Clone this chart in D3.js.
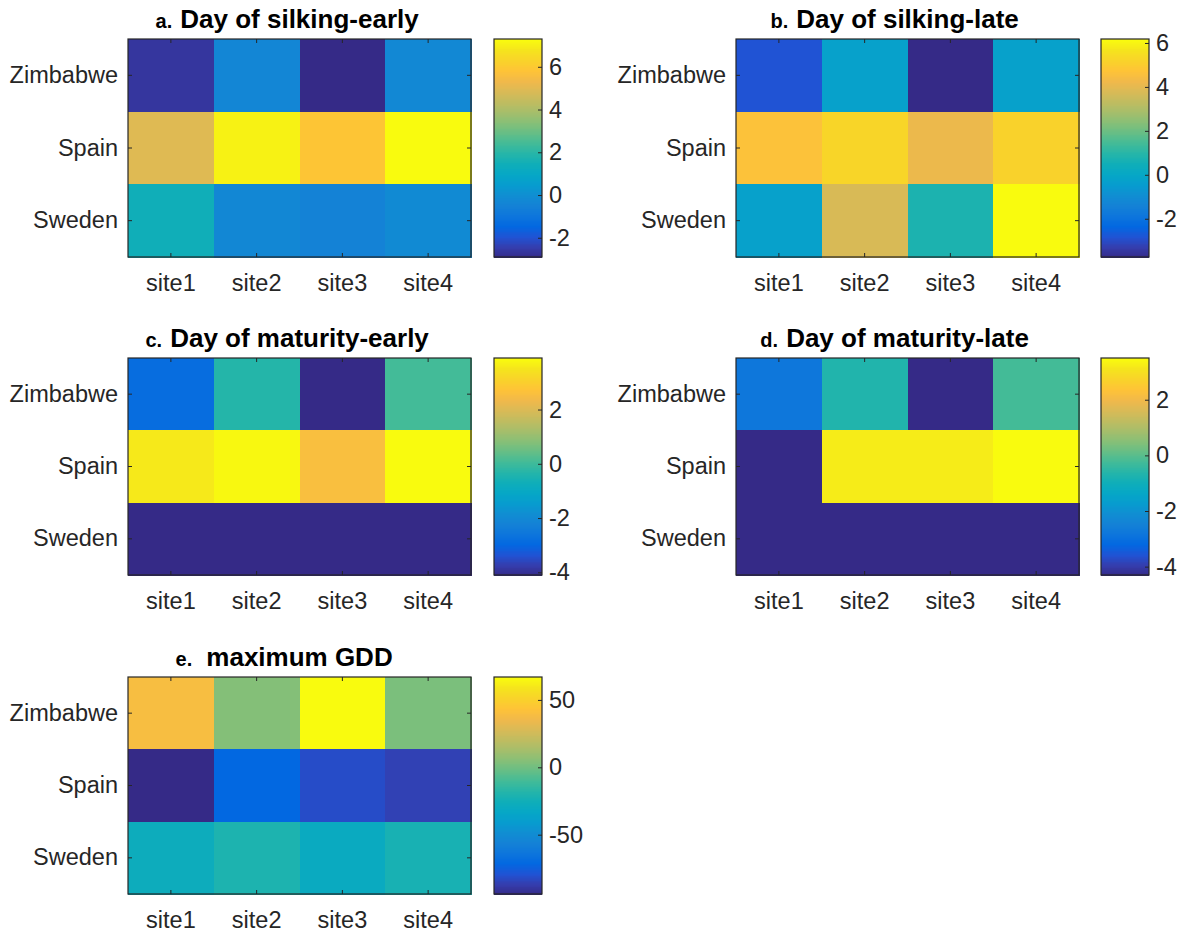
<!DOCTYPE html>
<html>
<head>
<meta charset="utf-8">
<script src="https://cdn.jsdelivr.net/npm/d3@7"></script>
<style>
  body { margin: 0; background: #fff; }
  svg { display: block; font-family: "Liberation Sans", Arial, Helvetica, sans-serif; }
</style>
</head>
<body>
<svg id="chart" width="1183" height="934"></svg>
<script>
// data
const sites = ['site1', 'site2', 'site3', 'site4'];
const countries = ['Zimbabwe', 'Spain', 'Sweden'];

const panelLetters = ['a.', 'b.', 'c.', 'd.', 'e.'];
const panelTitles = ['Day of silking-early', 'Day of silking-late', 'Day of maturity-early', 'Day of maturity-late', 'maximum GDD'];

// rows = countries, cols = sites
const silkingEarly = [
  [-2.6, -0.3, -2.9, -0.2],
  [5.0, 7.1, 5.9, 7.3],
  [1.5, -0.25, -0.45, -0.15]
];
const silkingLate = [
  [-2.8, -0.2, -3.74, -0.2],
  [4.7, 5.3, 4.2, 5.2],
  [-0.2, 3.8, 0.8, 6.18]
];
const maturityEarly = [
  [-2.8, -0.3, -4.1, 0.1],
  [3.6, 3.85, 2.6, 3.9],
  [-4.1, -4.1, -4.1, -4.1]
];
const maturityLate = [
  [-2.75, -0.65, -4.3, -0.2],
  [-4.3, 3.25, 3.25, 3.5],
  [-4.3, -4.3, -4.3, -4.3]
];
const maxGDD = [
  [40, 5, 67, 3],
  [-94, -71, -81, -85],
  [-27, -20, -29, -22]
];
const panelValues = [silkingEarly, silkingLate, maturityEarly, maturityLate, maxGDD];

// colour limits and colorbar ticks
const colorLimits = [[-2.9, 7.3], [-3.74, 6.18], [-4.1, 3.9], [-4.3, 3.5], [-94, 67]];
const colorTicks = [[-2, 0, 2, 4, 6], [-2, 0, 2, 4, 6], [-4, -2, 0, 2], [-4, -2, 0, 2], [-50, 0, 50]];

// MATLAB parula, every 3rd entry of the 64-colour map
const parulaStops = ['#352a87', '#353dad', '#2053d4', '#0268e1', '#0d75dc', '#1481d6', '#108ed2',
  '#079ccf', '#06a7c6', '#0faeb9', '#25b5a9', '#42bb98', '#65be86', '#87bf77', '#a5be6b',
  '#c0bc60', '#d9ba56', '#f1b94a', '#fec337', '#f9d32a', '#f5e41d', '#f9fb0e'];
const parula = d3.piecewise(d3.interpolateRgb, parulaStops);

// layout (pixels)
const boxes = [
  { x: 128, y: 39, w: 343, h: 218, cbx: 494 },
  { x: 736, y: 39, w: 343, h: 218, cbx: 1101 },
  { x: 128, y: 358, w: 343, h: 217, cbx: 494 },
  { x: 736, y: 358, w: 343, h: 217, cbx: 1101 },
  { x: 128, y: 677, w: 343, h: 217, cbx: 494 }
];
const cbWidth = 48;
const axisColor = '#262626';
const tickFont = 23.5;
const plainNum = d => String(d); // MATLAB uses hyphen-minus

const svg = d3.select('#chart');

function drawPanel(i) {
  const b = boxes[i];
  const vals = panelValues[i];
  const clim = colorLimits[i];
  const color = d3.scaleSequential(parula).domain(clim).clamp(true);

  const x = d3.scaleBand().domain(sites).range([b.x, b.x + b.w]);
  const y = d3.scaleBand().domain(countries).range([b.y, b.y + b.h]);

  const g = svg.append('g');

  // cells
  const cells = [];
  countries.forEach((c, r) => sites.forEach((s, k) => cells.push({ c, s, v: vals[r][k] })));
  g.selectAll('rect.cell')
    .data(cells)
    .enter()
    .append('rect')
    .attr('class', 'cell')
    .attr('x', d => x(d.s))
    .attr('y', d => y(d.c))
    .attr('width', x.bandwidth() + 0.5)
    .attr('height', y.bandwidth() + 0.5)
    .attr('shape-rendering', 'crispEdges')
    .attr('fill', d => color(d.v));

  // axes (ticks point inward, box on)
  const bottom = g.append('g').attr('transform', `translate(0,${b.y + b.h})`)
    .call(d3.axisBottom(x).tickSize(-4).tickPadding(17));
  const left = g.append('g').attr('transform', `translate(${b.x},0)`)
    .call(d3.axisLeft(y).tickSize(-4).tickPadding(10));
  const top = g.append('g').attr('transform', `translate(0,${b.y})`)
    .call(d3.axisTop(x).tickSize(-4).tickFormat(''));
  const right = g.append('g').attr('transform', `translate(${b.x + b.w},0)`)
    .call(d3.axisRight(y).tickSize(-4).tickFormat(''));
  [bottom, left, top, right].forEach(a => {
    a.select('.domain').remove();
    a.selectAll('line').attr('stroke', axisColor);
    a.selectAll('text').attr('fill', axisColor).style('font-size', tickFont + 'px');
  });

  g.append('rect')
    .attr('x', b.x).attr('y', b.y).attr('width', b.w).attr('height', b.h)
    .attr('fill', 'none').attr('stroke', axisColor).attr('stroke-width', 1.2);

  // colorbar
  const cy = d3.scaleLinear().domain(clim).range([b.y + b.h, b.y]);
  const nLevels = 256;
  const step = (clim[1] - clim[0]) / nLevels;
  const levels = d3.range(nLevels).map(k => clim[0] + step * k);
  g.selectAll('rect.cb')
    .data(levels)
    .enter()
    .append('rect')
    .attr('class', 'cb')
    .attr('x', b.cbx)
    .attr('y', d => cy(d + step))
    .attr('width', cbWidth)
    .attr('height', d => cy(d) - cy(d + step) + 1)
    .attr('shape-rendering', 'crispEdges')
    .attr('fill', d => color(d + step / 2));

  const cbAxis = g.append('g').attr('transform', `translate(${b.cbx + cbWidth},0)`)
    .call(d3.axisRight(cy).tickValues(colorTicks[i]).tickFormat(plainNum).tickSize(-4).tickPadding(7));
  cbAxis.select('.domain').remove();
  cbAxis.selectAll('line').attr('stroke', axisColor);
  cbAxis.selectAll('text').attr('fill', axisColor).style('font-size', tickFont + 'px');

  g.append('rect')
    .attr('x', b.cbx).attr('y', b.y).attr('width', cbWidth).attr('height', b.h)
    .attr('fill', 'none').attr('stroke', axisColor).attr('stroke-width', 1.2);

  // title: main text centred on the heatmap, letter to its left
  const cx = b.x + b.w / 2;
  const ty = b.y - 11;
  const t = g.append('text')
    .attr('x', cx).attr('y', ty)
    .attr('text-anchor', 'middle')
    .attr('font-weight', 'bold')
    .style('font-size', '26px')
    .attr('fill', '#000')
    .text(panelTitles[i]);
  const tw = t.node().getComputedTextLength();
  const gap = i === 4 ? 14 : 8;
  g.append('text')
    .attr('x', cx - tw / 2 - gap).attr('y', ty)
    .attr('text-anchor', 'end')
    .attr('font-weight', 'bold')
    .style('font-size', '20px')
    .attr('fill', '#000')
    .text(panelLetters[i]);
}

d3.range(panelTitles.length).forEach(drawPanel);
</script>
</body>
</html>
